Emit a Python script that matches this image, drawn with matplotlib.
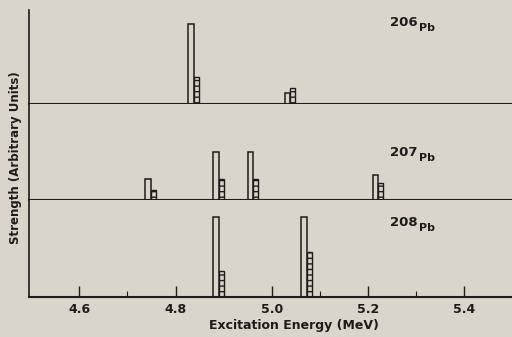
import matplotlib
matplotlib.use("Agg")
import matplotlib.pyplot as plt
from matplotlib.ticker import FixedLocator

# Level energies (MeV) and strengths (arbitrary units, 0-100 of panel height)
# open bars = first series, hatched bars = second series
pb206_energy = [4.832, 5.032]
pb206_open = [85, 12]
pb206_hatch = [29, 17]

pb207_energy = [4.743, 4.884, 4.955, 5.215]
pb207_open = [22, 50, 50, 26]
pb207_hatch = [10.5, 22, 22, 18]

pb208_energy = [4.884, 5.067]
pb208_open = [82, 82]
pb208_hatch = [27, 46]

panel_labels = ["206", "207", "208"]
x_ticks = [4.6, 4.8, 5.0, 5.2, 5.4]
x_minor = [4.7, 4.9, 5.1, 5.3]

BG = "#d9d5ca"
INK = "#1c1c1c"
W, H = 512, 337
BAR_W = 0.011

plt.rcParams["hatch.color"] = INK
plt.rcParams["hatch.linewidth"] = 1.0

fig = plt.figure(figsize=(W / 100, H / 100), dpi=100, facecolor=BG)

# panel extents in pixels (top, bottom)
panels = [(10, 104), (104, 200), (200, 297)]
data = [
    (pb206_energy, pb206_open, pb206_hatch),
    (pb207_energy, pb207_open, pb207_hatch),
    (pb208_energy, pb208_open, pb208_hatch),
]
label_y = [23, 153, 223]

left = 29 / W
for i, ((top, bot), (en, op, ha)) in enumerate(zip(panels, data)):
    ax = fig.add_axes([left, 1 - bot / H, 1 - left, (bot - top) / H])
    ax.set_facecolor(BG)
    ax.bar(en, op, width=BAR_W, color=BG, edgecolor=INK, linewidth=1.1, align="center")
    ax.bar([e + BAR_W for e in en], ha, width=BAR_W * 0.9, color=BG, edgecolor=INK,
           linewidth=1.0, hatch="---", align="center")
    ax.set_xlim(4.4955, 5.499)
    ax.set_ylim(0, 100)
    for s in ["top", "right"]:
        ax.spines[s].set_visible(False)
    ax.spines["left"].set_color(INK)
    ax.spines["bottom"].set_color(INK)
    ax.spines["left"].set_linewidth(1.2)
    ax.spines["bottom"].set_linewidth(1.5)
    ax.set_yticks([])
    if i < 2:
        ax.set_xticks([])
    else:
        ax.set_xticks(x_ticks)
        ax.set_xticklabels([f"{t:.1f}" for t in x_ticks], fontsize=9, fontweight="bold", color=INK)
        ax.xaxis.set_minor_locator(FixedLocator(x_minor))
        ax.tick_params(axis="x", which="major", direction="in", length=8, width=1.0, color=INK, pad=4)
        ax.tick_params(axis="x", which="minor", direction="in", length=4, width=0.8, color=INK)

    fig.text(390 / W, 1 - label_y[i] / H, panel_labels[i], fontsize=9.5, fontweight="bold",
             color=INK, ha="left", va="center")
    fig.text(419 / W, 1 - (label_y[i] + 5) / H, "Pb", fontsize=8, fontweight="bold",
             color=INK, ha="left", va="center")

fig.text(294 / W, 1 - 326 / H, "Excitation Energy (MeV)", fontsize=9, fontweight="bold",
         color=INK, ha="center", va="center")
fig.text(16 / W, 1 - 158 / H, "Strength (Arbitrary Units)", fontsize=8.5, fontweight="bold",
         color=INK, ha="center", va="center", rotation=90)

fig.savefig("out.png", dpi=100, facecolor=BG)
